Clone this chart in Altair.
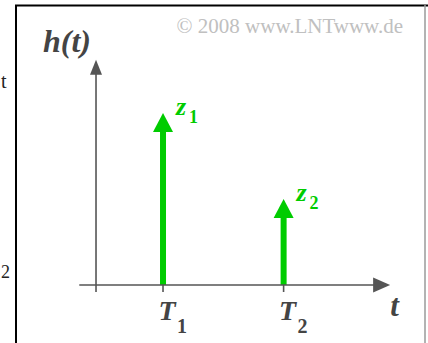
import altair as alt
import pandas as pd

# Impulse response h(t) = z1*delta(t - T1) + z2*delta(t - T2)
names = ["z", "z"]
subs = ["1", "2"]
delay_names = ["T", "T"]
delays = [1.0, 2.8]      # T1, T2 on the time axis
weights = [1.0, 0.5]     # z1, z2

# Extent of the drawn axes (in data units)
t_axis_start = -0.25
t_axis_end = 4.39
h_axis_end = 1.31

X_DOMAIN = [-1.433, 4.955]
Y_DOMAIN = [-0.337, 1.657]

GREEN = "#00cc00"
AXIS = "#555555"
SERIF = "Liberation Serif"

df = pd.DataFrame({
    "name": names,
    "sub": subs,
    "tname": delay_names,
    "time": delays,
    "weight": weights,
    "base": [0.0, 0.0],
})
ticks = pd.DataFrame({"time": [0.0] + delays, "base": 0.0})
h_axis = pd.DataFrame({"x": [0.0], "y": [h_axis_end], "y0": [0.0], "label": ["h(t)"]})
t_axis = pd.DataFrame({"x": [t_axis_end], "x0": [t_axis_start], "y": [0.0], "label": ["t"]})
one = pd.DataFrame({"k": [0]})

xs = alt.Scale(domain=X_DOMAIN, nice=False, zero=False)
ys = alt.Scale(domain=Y_DOMAIN, nice=False, zero=False)


def X(field):
    return alt.X(field, type="quantitative", scale=xs, axis=None)


def Y(field):
    return alt.Y(field, type="quantitative", scale=ys, axis=None)


base = alt.Chart(df)

# Frame around the figure
frame_left = alt.Chart(one).mark_rule(color="#000000", strokeWidth=2).encode(
    x=alt.value(16), y=alt.value(5), y2=alt.value(343))
frame_top = alt.Chart(one).mark_rule(color="#000000", strokeWidth=2).encode(
    x=alt.value(15), x2=alt.value(428), y=alt.value(5.5))
frame_right = alt.Chart(one).mark_rule(color="#9a9a9a", strokeWidth=1.5).encode(
    x=alt.value(425), y=alt.value(5), y2=alt.value(343))

# Weighted Dirac impulses
stems = base.mark_rule(color=GREEN, strokeWidth=6, yOffset=12).encode(
    x=X("time"), y=Y("weight"), y2=alt.Y2("base"))
heads = base.mark_point(shape="M-1,1.9L0,0L1,1.9Z", size=400, filled=True,
                        opacity=1, color=GREEN, strokeWidth=0).encode(
    x=X("time"), y=Y("weight"))

# Coordinate axes with arrow heads
y_line = alt.Chart(h_axis).mark_rule(color=AXIS, strokeWidth=1.6, yOffset=8).encode(
    x=X("x"), y=Y("y"), y2=alt.Y2("y0"))
y_head = alt.Chart(h_axis).mark_point(shape="M-1,2.5L0,0L1,2.5Z", size=144, filled=True,
                                      opacity=1, color=AXIS, strokeWidth=0).encode(
    x=X("x"), y=Y("y"))
x_line = alt.Chart(t_axis).mark_rule(color=AXIS, strokeWidth=1.6, x2Offset=-8).encode(
    x=X("x0"), x2=alt.X2("x"), y=Y("y"))
x_head = alt.Chart(t_axis).mark_point(shape="M-2.27,-1L0,0L-2.27,1Z", size=225, filled=True,
                                      opacity=1, color=AXIS, strokeWidth=0).encode(
    x=X("x"), y=Y("y"))
tick_marks = alt.Chart(ticks).mark_rule(color=AXIS, strokeWidth=1.6, y2Offset=7).encode(
    x=X("time"), y=Y("base"), y2=alt.Y2("base"))

# Impulse weight labels z1, z2
z_main = base.mark_text(font=SERIF, fontSize=26, fontStyle="italic", fontWeight="bold",
                        color=GREEN, align="left", baseline="alphabetic",
                        dx=13, dy=2).encode(
    x=X("time"), y=Y("weight"), text="name")
z_sub = base.mark_text(font=SERIF, fontSize=18, fontWeight="bold",
                       color=GREEN, align="left", baseline="alphabetic",
                       dx=26, dy=10).encode(
    x=X("time"), y=Y("weight"), text="sub")

# Delay labels T1, T2 under the time axis
t_main = base.mark_text(font=SERIF, fontSize=28, fontStyle="italic", fontWeight="bold",
                        color="#444444", align="center", baseline="alphabetic",
                        dx=4, dy=35).encode(
    x=X("time"), y=Y("base"), text="tname")
t_sub = base.mark_text(font=SERIF, fontSize=20, fontWeight="bold",
                       color="#444444", align="left", baseline="alphabetic",
                       dx=14, dy=48).encode(
    x=X("time"), y=Y("base"), text="sub")

# Axis titles
h_title = alt.Chart(h_axis).mark_text(font=SERIF, fontSize=32, fontStyle="italic",
                                      fontWeight="bold", color="#444444", align="right",
                                      baseline="alphabetic", dx=-5, dy=-8).encode(
    x=X("x"), y=Y("y"), text="label")
t_title = alt.Chart(t_axis).mark_text(font=SERIF, fontSize=31, fontStyle="italic",
                                      fontWeight="bold", color="#444444", align="left",
                                      baseline="alphabetic", dx=0, dy=31).encode(
    x=X("x"), y=Y("y"), text="label")

copyright_text = alt.Chart(one).mark_text(font=SERIF, fontSize=21, color="#c0c0c0",
                                          align="right", baseline="alphabetic",
                                          text="© 2008 www.LNTwww.de").encode(
    x=alt.value(403), y=alt.value(33))

# Text running in from the left margin
side_t = alt.Chart(one).mark_text(font=SERIF, fontSize=20, color="#222222",
                                  align="left", baseline="alphabetic", text="t").encode(
    x=alt.value(1), y=alt.value(88))
side_2 = alt.Chart(one).mark_text(font=SERIF, fontSize=18, color="#222222",
                                  align="left", baseline="alphabetic", text="2").encode(
    x=alt.value(1), y=alt.value(278))

chart = alt.layer(
    frame_left, frame_top, frame_right,
    stems, heads,
    tick_marks, y_line, x_line, y_head, x_head,
    z_main, z_sub, t_main, t_sub, h_title, t_title,
    copyright_text, side_t, side_2,
).properties(
    width=428, height=343, padding=0, autosize="none", background="white"
).configure_view(stroke=None)

chart.save("out.html", embed_options={"renderer": "svg", "actions": False})
